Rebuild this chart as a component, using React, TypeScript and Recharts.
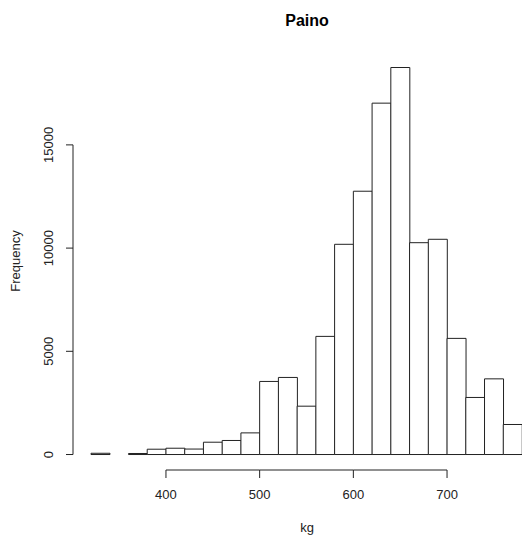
import { Bar, BarChart, XAxis, YAxis } from "recharts";

// histogram of weights, 20 kg bins (lower edge of each bin)
const binStarts = [
  320, 340, 360, 380, 400, 420, 440, 460, 480, 500, 520, 540,
  560, 580, 600, 620, 640, 660, 680, 700, 720, 740, 760,
];
const counts = [
  60, 0, 50, 257, 305, 265, 596, 680, 1048, 3540, 3734, 2342,
  5723, 10184, 12755, 17022, 18749, 10262, 10427, 5626, 2764, 3666, 1455,
];
const xTicks = [400, 500, 600, 700];
const yTicks = [0, 5000, 10000, 15000];
const yDomain = [-750, 19500];

const data = binStarts.map((start, i) => ({ start, count: counts[i] }));

const FONT = "'Liberation Sans', Arial, sans-serif";
const INK = "#222";

const W = 522;
const H = 538;
const MARGIN = { top: 52, right: 0, bottom: 38, left: 0 };
const X_AXIS_H = 30;
const PLOT_H = H - MARGIN.top - MARGIN.bottom - X_AXIS_H;
const pxPerUnit = PLOT_H / (yDomain[1] - yDomain[0]);

// R-style x tick: sits on the left edge of the bin, axis line runs tick to tick
function XTick({ x = 0, y = 0, payload }: { x?: number; y?: number; payload?: { value: number; offset?: number } }) {
  const half = payload?.offset ?? 9.36;
  const x0 = x - half;
  const last = payload?.value === xTicks[xTicks.length - 1];
  return (
    <g>
      {!last && <line x1={x0} y1={y} x2={x0 + 10 * half} y2={y} stroke={INK} />}
      <line x1={x0} y1={y} x2={x0} y2={y + 8} stroke={INK} />
      <text x={x0} y={y + 29} textAnchor="middle" fontSize={13} fontFamily={FONT} fill={INK}>
        {payload?.value}
      </text>
    </g>
  );
}

function YTick({ x = 0, y = 0, payload }: { x?: number; y?: number; payload?: { value: number } }) {
  const tx = x - 20;
  const first = payload?.value === yTicks[0];
  const span = (yTicks[yTicks.length - 1] - yTicks[0]) * pxPerUnit;
  return (
    <g>
      {first && <line x1={x} y1={y} x2={x} y2={y - span} stroke={INK} />}
      <line x1={x - 7} y1={y} x2={x} y2={y} stroke={INK} />
      <text
        x={tx}
        y={y}
        transform={`rotate(-90 ${tx} ${y})`}
        textAnchor="middle"
        fontSize={13}
        fontFamily={FONT}
        fill={INK}
      >
        {payload?.value}
      </text>
    </g>
  );
}

export default function App() {
  return (
    <div style={{ position: "absolute", left: 0, top: 0, width: W, height: H, background: "#fff", overflow: "hidden" }}>
      <BarChart width={W} height={H} data={data} margin={MARGIN} barCategoryGap={0}>
        <XAxis
          dataKey="start"
          ticks={xTicks}
          interval={0}
          padding={{ left: 18, right: 0 }}
          height={X_AXIS_H}
          axisLine={false}
          tickLine={false}
          tickSize={0}
          tickMargin={0}
          tick={<XTick />}
        />
        <YAxis
          domain={yDomain}
          allowDataOverflow
          ticks={yTicks}
          interval={0}
          width={73}
          axisLine={false}
          tickLine={false}
          tickSize={0}
          tickMargin={0}
          tick={<YTick />}
        />
        <Bar dataKey="count" fill="#fff" stroke={INK} strokeWidth={1} isAnimationActive={false} />
      </BarChart>
      <svg width={W} height={H} style={{ position: "absolute", left: 0, top: 0, pointerEvents: "none" }}>
        <text x={307} y={26} textAnchor="middle" fontSize={16} fontWeight="bold" fontFamily={FONT} fill="#000">
          Paino
        </text>
        <text x={307} y={532} textAnchor="middle" fontSize={13} fontFamily={FONT} fill={INK}>
          kg
        </text>
        <text
          x={20}
          y={261}
          transform="rotate(-90 20 261)"
          textAnchor="middle"
          fontSize={13}
          fontFamily={FONT}
          fill={INK}
        >
          Frequency
        </text>
      </svg>
    </div>
  );
}
